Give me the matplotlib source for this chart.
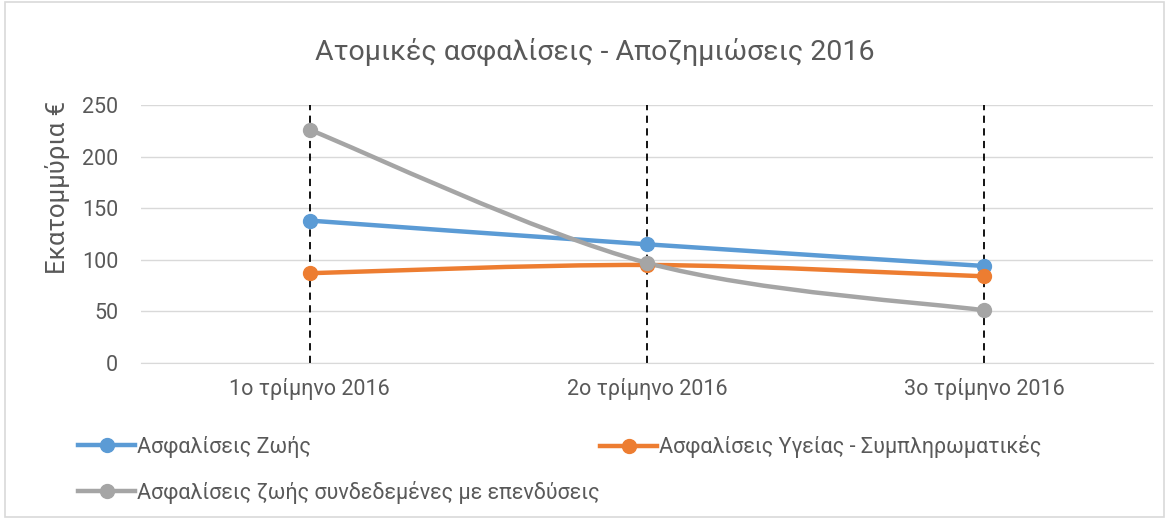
import numpy as np
import matplotlib
matplotlib.use("Agg")
import matplotlib.pyplot as plt
from matplotlib.path import Path
from matplotlib.patches import PathPatch, Rectangle
from matplotlib.lines import Line2D

plt.rcParams['font.family'] = ['Roboto', 'DejaVu Sans']

categories = ["1ο τρίμηνο 2016", "2ο τρίμηνο 2016", "3ο τρίμηνο 2016"]
life = [138, 115, 94]
health = [87, 95, 84]
unit_linked = [226, 97, 51]
series_names = ["Ασφαλίσεις Ζωής",
                "Ασφαλίσεις Υγείας - Συμπληρωματικές",
                "Ασφαλίσεις ζωής συνδεδεμένες με επενδύσεις"]
colors = ["#5B9BD5", "#ED7D31", "#A5A5A5"]
yticks = [0, 50, 100, 150, 200, 250]


def smooth_path(x, y, t=1 / 6):
    # Excel-style smoothed line: cubic Bezier through the data points
    x = np.asarray(x, float)
    y = np.asarray(y, float)
    verts = [(x[0], y[0])]
    codes = [Path.MOVETO]
    n = len(x)
    for i in range(n - 1):
        p0 = i - 1 if i > 0 else i
        p3 = i + 2 if i + 2 < n else i + 1
        c1 = (x[i] + (x[i + 1] - x[p0]) * t, y[i] + (y[i + 1] - y[p0]) * t)
        c2 = (x[i + 1] - (x[p3] - x[i]) * t, y[i + 1] - (y[p3] - y[i]) * t)
        verts += [c1, c2, (x[i + 1], y[i + 1])]
        codes += [Path.CURVE4] * 3
    return Path(verts, codes)


fig = plt.figure(figsize=(11.69, 5.19), dpi=100)
fig.patches.append(Rectangle((0.004, 0.004), 0.992, 0.992, transform=fig.transFigure,
                             fill=False, edgecolor="#D9D9D9", lw=1.2))
ax = fig.add_axes([141 / 1169, 1 - 363 / 519, 1012 / 1169, 258 / 519])

xs = np.arange(len(categories))
for xi in xs:
    ax.plot([xi, xi], [0, 255], color="black", ls=(0, (4, 3)), lw=1.3, zorder=2)

for vals, col in zip([life, health, unit_linked], colors):
    ax.add_patch(PathPatch(smooth_path(xs, vals), facecolor="none", edgecolor=col,
                           lw=3.2, capstyle="round", zorder=3))
    ax.plot(xs, vals, "o", color=col, ms=10, zorder=4)

ax.set_xlim(-0.5, 2.5)
ax.set_ylim(0, 250)
ax.set_yticks(yticks)
ax.set_xticks(xs)
ax.set_xticklabels(categories)
ax.grid(axis="y", color="#D9D9D9", lw=1)
ax.set_axisbelow(True)
for s in ["top", "right", "left"]:
    ax.spines[s].set_visible(False)
ax.spines["bottom"].set_color("#D9D9D9")
ax.tick_params(length=0, labelsize=15.5, colors="#595959")
ax.tick_params(axis="x", pad=11)
ax.tick_params(axis="y", pad=16.5)
ax.set_ylabel("Εκατομμύρια €", fontsize=18.5, color="#595959")
ax.yaxis.set_label_coords((70 - 141) / 1012, (363 - 187) / 258)

fig.text(595 / 1169, 1 - 52 / 519, "Ατομικές ασφαλίσεις - Αποζημιώσεις 2016",
         ha="center", va="center", fontsize=20.5, color="#595959")

handles = [Line2D([], [], color=c, lw=3.2, marker="o", ms=10) for c in colors]
leg_pos = [(78 / 1169, 1 - 447 / 519), (600 / 1169, 1 - 447 / 519), (78 / 1169, 1 - 492 / 519)]
for h, name, (lx, ly) in zip(handles, series_names, leg_pos):
    fig.legend([h], [name], loc="center left", bbox_to_anchor=(lx, ly), frameon=False,
               fontsize=15.5, labelcolor="#595959", handlelength=2.65, handletextpad=0.1,
               borderpad=0, borderaxespad=0)

fig.savefig("out.png", dpi=100)
